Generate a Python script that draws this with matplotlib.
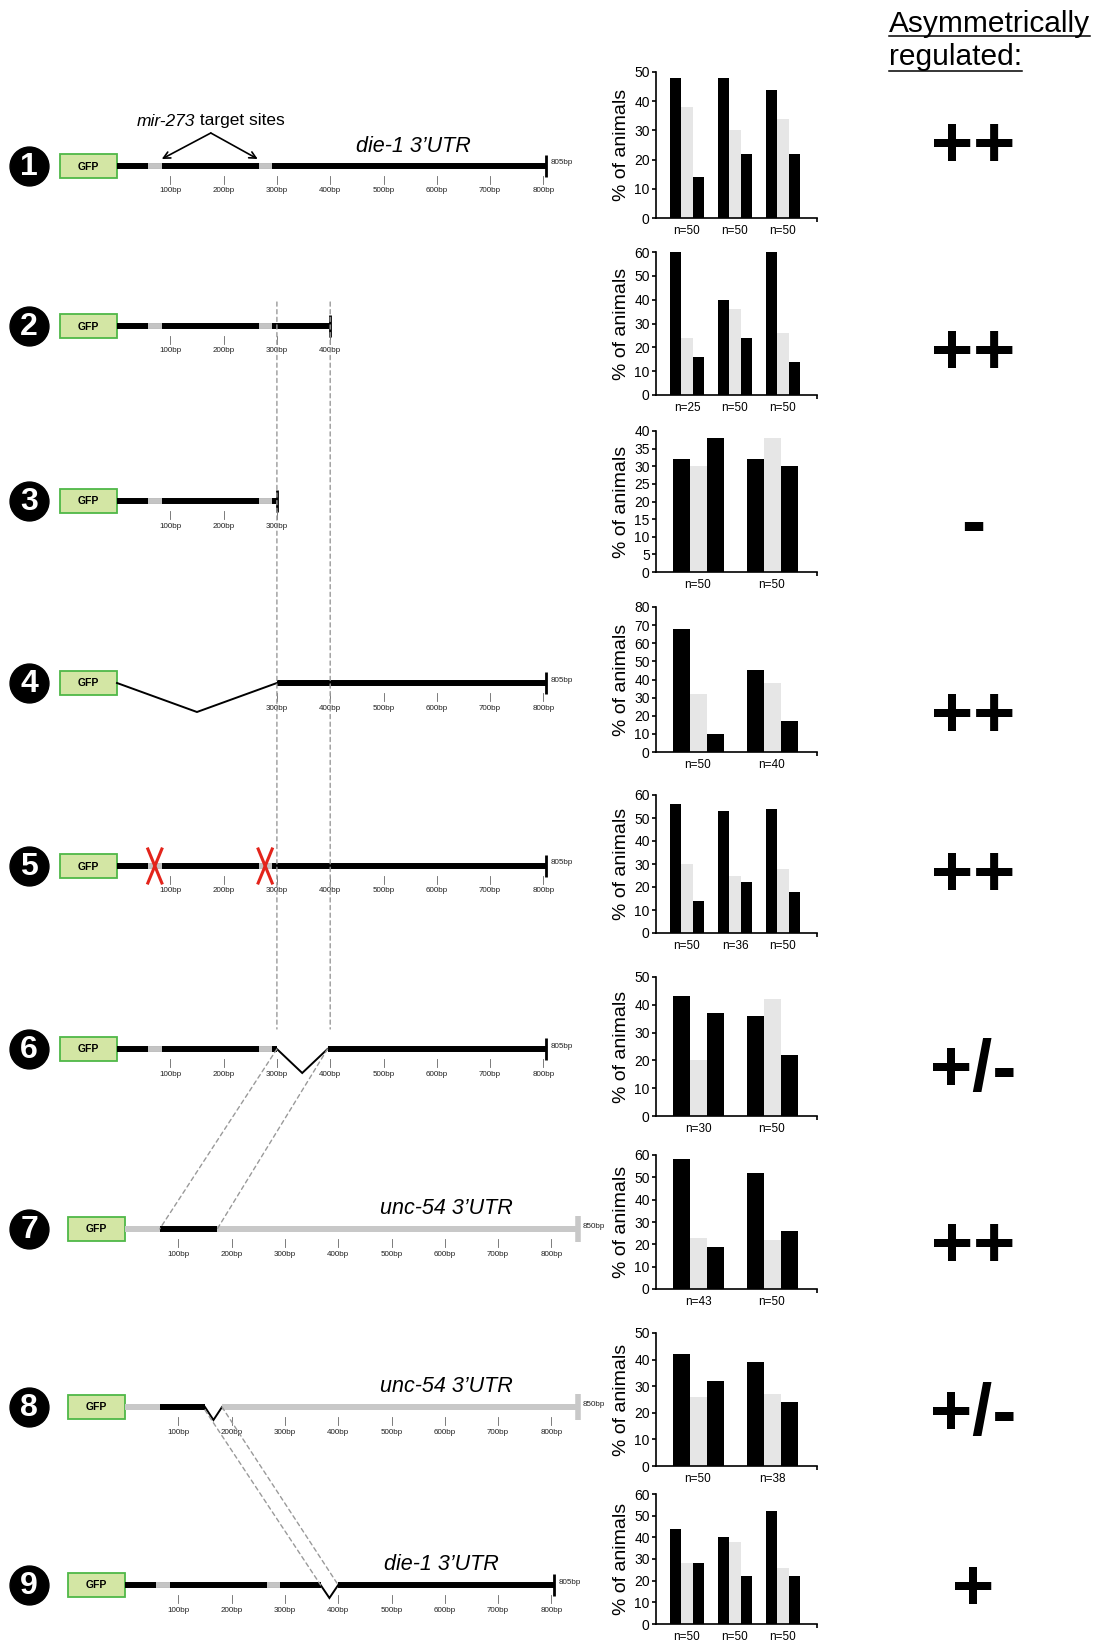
import matplotlib
matplotlib.use("Agg")
import matplotlib.pyplot as plt
from matplotlib.patches import Rectangle, ConnectionPatch

plt.rcParams['font.family'] = ['Liberation Sans', 'DejaVu Sans']

W, H = 1094, 1646
fig = plt.figure(figsize=(W / 100, H / 100), dpi=100)

# ---------------------------------------------------------------- constructs
construct_ids = ["1", "2", "3", "4", "5", "6", "7", "8", "9"]
utr_kind = ["die-1", "die-1", "die-1", "die-1", "die-1", "die-1",
            "unc-54", "unc-54", "die-1"]
utr_length = [805, 400, 300, 805, 805, 805, 850, 850, 805]
# mir-273 target sites inside the die-1 3'UTR (bp)
target_sites = [(58, 84), (266, 290)]
rows_with_sites = ["1", "2", "3", "5", "6", "9"]
rows_with_mutated_sites = ["5"]
# deleted stretches (start bp, end bp)
deletions = {"4": (0, 300), "6": (300, 395), "8": (150, 182), "9": (367, 400)}
# die-1 fragment carried inside the unc-54 3'UTR (bp)
die1_fragment = {"7": (65, 173), "8": (65, 150)}
# scale ticks drawn under each construct (first, last bp)
tick_span = {"1": (100, 800), "2": (100, 400), "3": (100, 300),
             "4": (300, 800), "5": (100, 800), "6": (100, 800),
             "7": (100, 800), "8": (100, 800), "9": (100, 800)}
utr_titles = {"1": "die-1 3\u2019UTR", "7": "unc-54 3\u2019UTR",
              "8": "unc-54 3\u2019UTR", "9": "die-1 3\u2019UTR"}

# ---------------------------------------------------------------- bar data
n_labels = [
    ["n=50", "n=50", "n=50"],
    ["n=25", "n=50", "n=50"],
    ["n=50", "n=50"],
    ["n=50", "n=40"],
    ["n=50", "n=36", "n=50"],
    ["n=30", "n=50"],
    ["n=43", "n=50"],
    ["n=50", "n=38"],
    ["n=50", "n=50", "n=50"],
]
pct_first = [[48, 48, 44], [60, 40, 60], [32, 32], [68, 45], [56, 53, 54],
             [43, 36], [58, 52], [42, 39], [44, 40, 52]]
pct_both = [[38, 30, 34], [24, 36, 26], [30, 38], [32, 38], [30, 25, 28],
            [20, 42], [23, 22], [26, 27], [28, 38, 26]]
pct_second = [[14, 22, 22], [16, 24, 14], [38, 30], [10, 17], [14, 22, 18],
              [37, 22], [19, 26], [32, 24], [28, 22, 22]]
y_max = [50, 60, 40, 80, 60, 50, 60, 50, 60]
y_step = [10, 10, 5, 10, 10, 10, 10, 10, 10]

asym_calls = ["++", "++", "-", "++", "++", "+/-", "++", "+/-", "+"]

# ---------------------------------------------------------------- layout
row_y = [166, 326, 501, 683, 866, 1049, 1229, 1407, 1585]
row_origin = [117, 117, 117, 117, 117, 117, 125, 125, 125]
PPB = 0.533          # pixels per bp
ROW_HALF = 80

chart_left, chart_right = 656, 817
chart_zero = [218, 395, 572, 752, 933, 1116, 1289, 1466, 1624]
chart_top = [72, 252, 431, 607, 795, 977, 1155, 1333, 1494]
plus_y = [142, 349, 520, 712, 871, 1066, 1242, 1410, 1585]

BLACK = "#000000"
SITE_GREY = "#c4c4c4"
UNC_GREY = "#c8c8c8"
BAR_GREY = "#e6e6e6"
DASH_GREY = "#9a9a9a"

row_axes = {}
for cid, yc, off, kind, length in zip(construct_ids, row_y, row_origin,
                                      utr_kind, utr_length):
    ax = fig.add_axes([0, 1 - (yc + ROW_HALF) / H, 1, 2 * ROW_HALF / H])
    ax.set_xlim(-off / PPB, (W - off) / PPB)
    ax.set_ylim(ROW_HALF, -ROW_HALF)
    ax.axis("off")
    row_axes[cid] = ax

    def bp(px_x, off=off):
        return (px_x - off) / PPB

    # numbered badge
    ax.plot(bp(29), 0, "o", ms=28, color=BLACK, clip_on=False)
    ax.text(bp(29), 1, cid, color="white", fontsize=23, fontweight="bold",
            ha="center", va="center")

    # GFP box
    ax.add_patch(Rectangle((bp(off - 57), -12), 57 / PPB, 24,
                           facecolor="#d3e6a4", edgecolor="#4fb848",
                           lw=1.3, clip_on=False))
    ax.text(bp(off - 28.5), 0.5, "GFP", fontsize=7.5, fontweight="bold",
            ha="center", va="center")

    # UTR body, with a deleted stretch drawn as a thin V
    line_col = BLACK if kind == "die-1" else UNC_GREY
    pieces = [(0, length)]
    if cid in deletions:
        d0, d1 = deletions[cid]
        pieces = [(s, e) for s, e in [(0, d0), (d1, length)] if e > s]
        depth = {"4": 29, "6": 24, "8": 13, "9": 13}[cid]
        ax.plot([d0, (d0 + d1) / 2, d1], [0, depth, 0], color=BLACK,
                lw=1.4, solid_joinstyle="miter", clip_on=False)
    for s, e in pieces:
        ax.plot([s, e], [0, 0], color=line_col, lw=4.3,
                solid_capstyle="butt", clip_on=False)

    # die-1 fragment inside unc-54
    if cid in die1_fragment:
        f0, f1 = die1_fragment[cid]
        ax.plot([f0, f1], [0, 0], color=BLACK, lw=4.3,
                solid_capstyle="butt", clip_on=False)

    # target sites
    if cid in rows_with_sites:
        for s0, s1 in target_sites:
            if cid in deletions and deletions[cid][0] <= s0 < deletions[cid][1]:
                continue
            ax.plot([s0, s1], [0, 0], color=SITE_GREY, lw=4.3,
                    solid_capstyle="butt", clip_on=False)
    if cid in rows_with_mutated_sites:
        for s0, s1 in target_sites:
            c = (s0 + s1) / 2
            ax.plot([c - 7 / PPB, c + 7 / PPB], [-17, 17], color="#e3241b",
                    lw=2.2, clip_on=False)
            ax.plot([c - 7 / PPB, c + 7 / PPB], [17, -17], color="#e3241b",
                    lw=2.2, clip_on=False)

    # end bar and size label
    if kind == "die-1":
        ax.plot([length, length], [-11, 11], color=BLACK, lw=2,
                solid_capstyle="butt", clip_on=False)
    else:
        ax.plot([length, length], [-13, 13], color=UNC_GREY, lw=4,
                solid_capstyle="butt", clip_on=False)
    if length >= 800:
        ax.text(length + 5 / PPB, -3, f"{length}bp", fontsize=5.8,
                color="#222222", ha="left", va="center")

    # bp scale
    t0, t1 = tick_span[cid]
    for t in range(t0, t1 + 1, 100):
        ax.plot([t, t], [10, 18], color="#666666", lw=0.6, clip_on=False)
        ax.text(t, 25, f"{t}bp", fontsize=5.8, color="#222222",
                ha="center", va="center")

    if cid in utr_titles:
        cx = {"1": 413, "7": 446, "8": 446, "9": 441}[cid]
        ax.text(bp(cx), -20, utr_titles[cid], fontsize=15.5,
                fontstyle="italic", ha="center", va="center")

# target-site callout on construct 1
ax1 = row_axes["1"]
ax1.text(146, -45, "mir-273", fontsize=12.5, fontstyle="italic",
         ha="right", va="center")
ax1.text(146, -45, " target sites", fontsize=12.5, ha="left", va="center")
for tip in (84, 264):
    ax1.annotate("", xy=(tip, -7), xytext=(176, -33),
                 arrowprops=dict(arrowstyle="->", lw=1.2, color=BLACK,
                                 shrinkA=0, shrinkB=0, mutation_scale=12))

# dashed guides linking the constructs
dash = (0, (3, 2.5))


def link(a, xa, ya, b, xb, yb):
    con = ConnectionPatch(xyA=(xa, ya), coordsA=row_axes[a].transData,
                          xyB=(xb, yb), coordsB=row_axes[b].transData,
                          color=DASH_GREY, lw=1, linestyle=dash)
    fig.add_artist(con)


link("2", 300, -24, "6", 300, -20)
link("2", 400, -24, "6", 400, -20)
link("6", 300, 0, "7", die1_fragment["7"][0], 0)
link("6", 395, 0, "7", die1_fragment["7"][1], 0)
link("8", deletions["8"][0], 3, "9", deletions["9"][0], 0)
link("8", deletions["8"][1], 0, "9", deletions["9"][1], 0)

# ---------------------------------------------------------------- bar charts
for i in range(9):
    ng = len(n_labels[i])
    unit = 48.0 if ng == 3 else 74.0
    first_c = 31.0 if ng == 3 else 42.0
    bw = (11.3 if ng == 3 else 17.0) / unit
    ax = fig.add_axes([chart_left / W, 1 - chart_zero[i] / H,
                       (chart_right - chart_left) / W,
                       (chart_zero[i] - chart_top[i]) / H])
    xs = list(range(ng))
    ax.bar([x - bw for x in xs], pct_first[i], width=bw, color=BLACK)
    ax.bar(xs, pct_both[i], width=bw, color=BAR_GREY)
    ax.bar([x + bw for x in xs], pct_second[i], width=bw, color=BLACK)
    xmin = -first_c / unit
    xmax = xmin + (chart_right - chart_left) / unit
    ax.set_xlim(xmin, xmax)
    ax.set_ylim(0, y_max[i])
    ax.set_yticks(range(0, y_max[i] + 1, y_step[i]))
    ax.set_xticks(xs, n_labels[i])
    ax.set_xticks([xmax], minor=True)
    ax.tick_params(axis="x", which="major", length=0, pad=5, labelsize=8.5)
    ax.tick_params(axis="x", which="minor", length=3, width=1.2)
    ax.tick_params(axis="y", length=3, width=1.2, pad=1.5, labelsize=10)
    for s in ("top", "right"):
        ax.spines[s].set_visible(False)
    for s in ("left", "bottom"):
        ax.spines[s].set_linewidth(1.2)
    ax.set_ylabel("% of animals", fontsize=14)
    ax.yaxis.set_label_coords(-0.16, 0.5)

# ---------------------------------------------------------------- verdicts
t1 = fig.text(889 / W, 1 - 31.5 / H, "Asymmetrically", fontsize=21.5,
              ha="left", va="baseline")
t2 = fig.text(889 / W, 1 - 65 / H, "regulated:", fontsize=21.5,
              ha="left", va="baseline")
fig.canvas.draw()
r = fig.canvas.get_renderer()
for t, uy in ((t1, 35.5), (t2, 71)):
    bb = t.get_window_extent(r)
    fig.add_artist(plt.Line2D([bb.x0 / W, bb.x1 / W], [1 - uy / H, 1 - uy / H],
                              color=BLACK, lw=1.1))

for call, yc in zip(asym_calls, plus_y):
    fig.text(973 / W, 1 - (yc + 25) / H, call, fontsize=52,
             fontweight="bold", ha="center", va="baseline")

fig.savefig("out.png", dpi=100, facecolor="white")
